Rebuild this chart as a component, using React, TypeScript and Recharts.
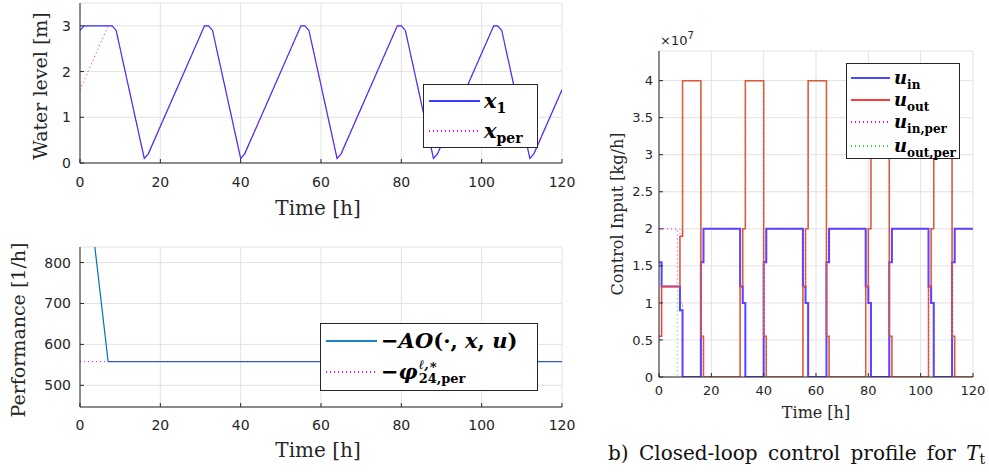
import React from 'react';
import { LineChart, Line, XAxis, YAxis, CartesianGrid } from 'recharts';

// top left: water level
const levelT = [0, 1, 8, 9, 16, 17, 31, 32, 33, 40, 41, 55, 56, 57, 64, 65, 79, 80, 81, 88, 89, 103, 104, 105, 112, 113, 120];
const levelX1 = [2.9, 3, 3, 2.9, 0.1, 0.2, 3, 3, 2.9, 0.1, 0.2, 3, 3, 2.9, 0.1, 0.2, 3, 3, 2.9, 0.1, 0.2, 3, 3, 2.9, 0.1, 0.2, 1.6];
const levelPerT = [0, 7, 8, 9, 16, 17, 31, 32, 33, 40, 41, 55, 56, 57, 64, 65, 79, 80, 81, 88, 89, 103, 104, 105, 112, 113, 120];
const levelPer = [1.6, 3, 3, 2.9, 0.1, 0.2, 3, 3, 2.9, 0.1, 0.2, 3, 3, 2.9, 0.1, 0.2, 3, 3, 2.9, 0.1, 0.2, 3, 3, 2.9, 0.1, 0.2, 1.6];

// bottom left: performance
const perfT = [0, 7, 120];
const perfAO = [1152, 558, 558];
const perfPhiT = [0, 120];
const perfPhi = [558, 558];

// right: control inputs [kg/h]
const ctrlT = [0, 1, 8, 9, 16, 17, 31, 32, 33, 40, 41, 55, 56, 57, 64, 65, 79, 80, 81, 88, 89, 103, 104, 105, 112, 113, 120];
const uIn = [1.55e7, 1.22e7, 0.9e7, 0, 1.55e7, 2e7, 1.22e7, 1e7, 0, 1.55e7, 2e7, 1.22e7, 1e7, 0, 1.55e7, 2e7, 1.22e7, 1e7, 0, 1.55e7, 2e7, 1.22e7, 1e7, 0, 1.55e7, 2e7, 2e7];
const uOut = [0.55e7, 1.22e7, 1.9e7, 4e7, 0.55e7, 0, 1.22e7, 2e7, 4e7, 0.55e7, 0, 1.22e7, 2e7, 4e7, 0.55e7, 0, 1.22e7, 2e7, 4e7, 0.55e7, 0, 1.22e7, 2e7, 4e7, 0.55e7, 0, 0];
const ctrlPerT = [0, 7, 8, 9, 16, 17, 31, 32, 33, 40, 41, 55, 56, 57, 64, 65, 79, 80, 81, 88, 89, 103, 104, 105, 112, 113, 120];
const uInPer = [2e7, 1.22e7, 1e7, 0, 1.55e7, 2e7, 1.22e7, 1e7, 0, 1.55e7, 2e7, 1.22e7, 1e7, 0, 1.55e7, 2e7, 1.22e7, 1e7, 0, 1.55e7, 2e7, 1.22e7, 1e7, 0, 1.55e7, 2e7, 2e7];
const uOutPer = [0, 1.22e7, 2e7, 4e7, 0.55e7, 0, 1.22e7, 2e7, 4e7, 0.55e7, 0, 1.22e7, 2e7, 4e7, 0.55e7, 0, 1.22e7, 2e7, 4e7, 0.55e7, 0, 1.22e7, 2e7, 4e7, 0.55e7, 0, 0];

const timeTicks = [0, 20, 40, 60, 80, 100, 120];
const levelTicks = [0, 1, 2, 3];
const perfTicks = [500, 600, 700, 800];
const ctrlTicks = [0, 0.5e7, 1e7, 1.5e7, 2e7, 2.5e7, 3e7, 3.5e7, 4e7];

const rows = (t: number[], v: number[]) => t.map((ti, i) => ({ t: ti, v: v[i] }));

const AX = '#262626';
const GRID = '#e2e2e2';
const SANS = "'DejaVu Sans', sans-serif";
const SERIF = "'DejaVu Serif', serif";
const DOT = '1 3';
const blank = () => '';

const abs = (left: number, top: number, extra: React.CSSProperties = {}): React.CSSProperties => ({
  position: 'absolute', left, top, ...extra,
});

const VLabel = ({ x, y, size, children }: any) => (
  <div style={abs(x, y, { transform: 'translate(-50%,-50%) rotate(-90deg)', whiteSpace: 'nowrap', fontFamily: SERIF, fontSize: size, color: AX })}>
    {children}
  </div>
);

const HLabel = ({ x, y, size, children }: any) => (
  <div style={abs(x, y, { transform: 'translate(-50%,-50%)', whiteSpace: 'nowrap', fontFamily: SERIF, fontSize: size, color: AX })}>
    {children}
  </div>
);

// legend line sample as a plain block so it lands on whole pixels
const Sample = ({ color, dotted, len }: any) => (
  <div
    style={{
      width: len,
      height: 2,
      marginTop: -1,
      background: dotted ? `repeating-linear-gradient(to right, ${color} 0 1px, transparent 1px 4px)` : color,
    }}
  />
);

const mathStyle: React.CSSProperties = { fontFamily: SERIF, fontWeight: 'bold', color: '#000', whiteSpace: 'nowrap', lineHeight: 1 };

const Sym = ({ s, sub, size, subSize }: any) => (
  <span style={{ ...mathStyle, fontSize: size }}>
    <i>{s}</i>
    <span style={{ fontSize: subSize, position: 'relative', top: size * 0.25 }}>{sub}</span>
  </span>
);

const Entry = ({ top, left, textLeft, sample, children }: any) => (
  <>
    <div style={abs(left, top)}>{sample}</div>
    <div style={abs(textLeft, top, { transform: 'translateY(-50%)' })}>{children}</div>
  </>
);

export default function App() {
  const tickSans = { fontFamily: SANS, fontSize: 14, fill: AX };
  const tickSans3 = { fontFamily: SANS, fontSize: 13, fill: AX };

  return (
    <div style={abs(0, 0, { width: 989, height: 472, background: '#fff', overflow: 'hidden' })}>
      {/* top left */}
      <div style={abs(0, 0)}>
        <LineChart width={580} height={230} margin={{ top: 3, right: 18, bottom: 0, left: 0 }}>
          <CartesianGrid stroke={GRID} />
          <XAxis dataKey="t" type="number" domain={[0, 120]} ticks={timeTicks} allowDataOverflow height={67}
            stroke={AX} tickSize={-4} tickMargin={18} tick={tickSans} />
          <YAxis type="number" domain={[0, 3.5]} ticks={levelTicks} allowDataOverflow width={80}
            stroke={AX} tickSize={-4} tickMargin={13} tick={tickSans} />
          <XAxis xAxisId="top" orientation="top" type="number" domain={[0, 120]} ticks={timeTicks} allowDataOverflow
            height={0} mirror stroke={AX} tickSize={4} tickFormatter={blank} />
          <YAxis yAxisId="right" orientation="right" type="number" domain={[0, 3.5]} ticks={levelTicks} allowDataOverflow
            width={0} mirror stroke={AX} tickSize={4} tickFormatter={blank} />
          <Line data={rows(levelT, levelX1)} dataKey="v" type="linear" stroke="#2f2ff5" strokeWidth={1.2} dot={false} isAnimationActive={false} />
          <Line data={rows(levelPerT, levelPer)} dataKey="v" type="linear" stroke="#ff00ff" strokeWidth={1} strokeDasharray={DOT} dot={false} isAnimationActive={false} />
        </LineChart>
      </div>

      {/* bottom left */}
      <div style={abs(0, 230)}>
        <LineChart width={580} height={242} margin={{ top: 17, right: 18, bottom: 0, left: 0 }}>
          <CartesianGrid stroke={GRID} />
          <XAxis dataKey="t" type="number" domain={[0, 120]} ticks={timeTicks} allowDataOverflow height={65}
            stroke={AX} tickSize={-4} tickMargin={17} tick={tickSans} />
          <YAxis type="number" domain={[447, 838]} ticks={perfTicks} allowDataOverflow width={80}
            stroke={AX} tickSize={-4} tickMargin={13} tick={tickSans} />
          <XAxis xAxisId="top" orientation="top" type="number" domain={[0, 120]} ticks={timeTicks} allowDataOverflow
            height={0} mirror stroke={AX} tickSize={4} tickFormatter={blank} />
          <YAxis yAxisId="right" orientation="right" type="number" domain={[447, 838]} ticks={perfTicks} allowDataOverflow
            width={0} mirror stroke={AX} tickSize={4} tickFormatter={blank} />
          <Line data={rows(perfT, perfAO)} dataKey="v" type="linear" stroke="#0072bd" strokeWidth={1.2} dot={false} isAnimationActive={false} />
          <Line data={rows(perfPhiT, perfPhi)} dataKey="v" type="linear" stroke="#ff00ff" strokeWidth={1} strokeDasharray={DOT} dot={false} isAnimationActive={false} />
        </LineChart>
      </div>

      {/* right */}
      <div style={abs(580, 0)}>
        <LineChart width={409} height={472} margin={{ top: 51, right: 16, bottom: 0, left: 0 }}>
          <CartesianGrid stroke={GRID} />
          <XAxis dataKey="t" type="number" domain={[0, 120]} ticks={timeTicks} allowDataOverflow height={95}
            stroke={AX} tickSize={-4} tickMargin={13} tick={tickSans3} />
          <YAxis type="number" domain={[0, 4.4e7]} ticks={ctrlTicks} allowDataOverflow width={79}
            stroke={AX} tickSize={-4} tickMargin={10} tick={tickSans3} tickFormatter={(v: number) => String(v / 1e7)} />
          <XAxis xAxisId="top" orientation="top" type="number" domain={[0, 120]} ticks={timeTicks} allowDataOverflow
            height={0} mirror stroke={AX} tickSize={4} tickFormatter={blank} />
          <YAxis yAxisId="right" orientation="right" type="number" domain={[0, 4.4e7]} ticks={ctrlTicks} allowDataOverflow
            width={0} mirror stroke={AX} tickSize={4} tickFormatter={blank} />
          <Line data={rows(ctrlT, uIn)} dataKey="v" type="stepAfter" stroke="#4848ff" strokeWidth={2} dot={false} isAnimationActive={false} />
          <Line data={rows(ctrlT, uOut)} dataKey="v" type="stepAfter" stroke="#ff3a3a" strokeWidth={1.5} dot={false} isAnimationActive={false} />
          <Line data={rows(ctrlPerT, uInPer)} dataKey="v" type="stepAfter" stroke="#ff00ff" strokeWidth={1} strokeDasharray={DOT} dot={false} isAnimationActive={false} />
          <Line data={rows(ctrlPerT, uOutPer)} dataKey="v" type="stepAfter" stroke="#22ee22" strokeWidth={1} strokeDasharray={DOT} dot={false} isAnimationActive={false} />
        </LineChart>
      </div>

      {/* axis titles */}
      <VLabel x={40} y={86} size={19}>Water level [m]</VLabel>
      <HLabel x={318} y={208} size={20}>Time [h]</HLabel>
      <VLabel x={18} y={330} size={19}>Performance [1/h]</VLabel>
      <HLabel x={318} y={450} size={20}>Time [h]</HLabel>
      <VLabel x={617} y={214} size={16}>Control Input [kg/h]</VLabel>
      <HLabel x={816} y={412} size={16}>Time [h]</HLabel>
      <div style={abs(660, 33, { fontFamily: SANS, fontSize: 13, color: AX, whiteSpace: 'nowrap' })}>
        ×10<span style={{ fontSize: 10, position: 'relative', top: -6 }}>7</span>
      </div>

      {/* legend top left */}
      <div style={abs(423, 84, { width: 113, height: 62, border: `1px solid ${AX}`, background: '#fff' })}>
        <Entry top={16} left={5} textLeft={60} sample={<Sample len={51} color="#3d3dff" />}>
          <Sym s="x" sub="1" size={21} subSize={14} />
        </Entry>
        <Entry top={46} left={5} textLeft={60} sample={<Sample len={51} color="#ff00ff" dotted />}>
          <Sym s="x" sub="per" size={21} subSize={14} />
        </Entry>
      </div>

      {/* legend bottom left */}
      <div style={abs(320, 323, { width: 216, height: 66, border: `1px solid ${AX}`, background: '#fff' })}>
        <Entry top={17} left={5} textLeft={60} sample={<Sample len={51} color="#1f82c8" />}>
          <span style={{ ...mathStyle, fontSize: 21 }}>
            −<i>AO</i>(·, <i>x</i>, <i>u</i>)
          </span>
        </Entry>
        <Entry top={48} left={5} textLeft={60} sample={<Sample len={51} color="#ff00ff" dotted />}>
          <span style={{ ...mathStyle, fontSize: 21, display: 'inline-flex', alignItems: 'center' }}>
            −<i>φ</i>
            <span style={{ display: 'inline-flex', flexDirection: 'column', fontSize: 13, lineHeight: 1.05, marginLeft: 1 }}>
              <i style={{ fontWeight: 'bold' }}>ℓ,∗</i>
              <span>24,per</span>
            </span>
          </span>
        </Entry>
      </div>

      {/* legend right */}
      <div style={abs(846, 63, { width: 112, height: 94, border: `1px solid ${AX}`, background: '#fff' })}>
        <Entry top={14} left={4} textLeft={47} sample={<Sample len={39} color="#4848ff" />}>
          <Sym s="u" sub="in" size={18} subSize={12} />
        </Entry>
        <Entry top={36} left={4} textLeft={47} sample={<Sample len={39} color="#ff3a3a" />}>
          <Sym s="u" sub="out" size={18} subSize={12} />
        </Entry>
        <Entry top={58} left={4} textLeft={47} sample={<Sample len={39} color="#ff00ff" dotted />}>
          <Sym s="u" sub="in,per" size={18} subSize={12} />
        </Entry>
        <Entry top={82} left={4} textLeft={47} sample={<Sample len={39} color="#22ee22" dotted />}>
          <Sym s="u" sub="out,per" size={18} subSize={12} />
        </Entry>
      </div>

      {/* caption */}
      <div style={abs(608, 453, { transform: 'translateY(-50%)', fontFamily: SERIF, fontSize: 20, wordSpacing: 4, whiteSpace: 'nowrap', color: '#111' })}>
        b) Closed-loop control profile for <i>T</i><span style={{ fontSize: 14, position: 'relative', top: 4 }}>t</span>
      </div>
    </div>
  );
}
